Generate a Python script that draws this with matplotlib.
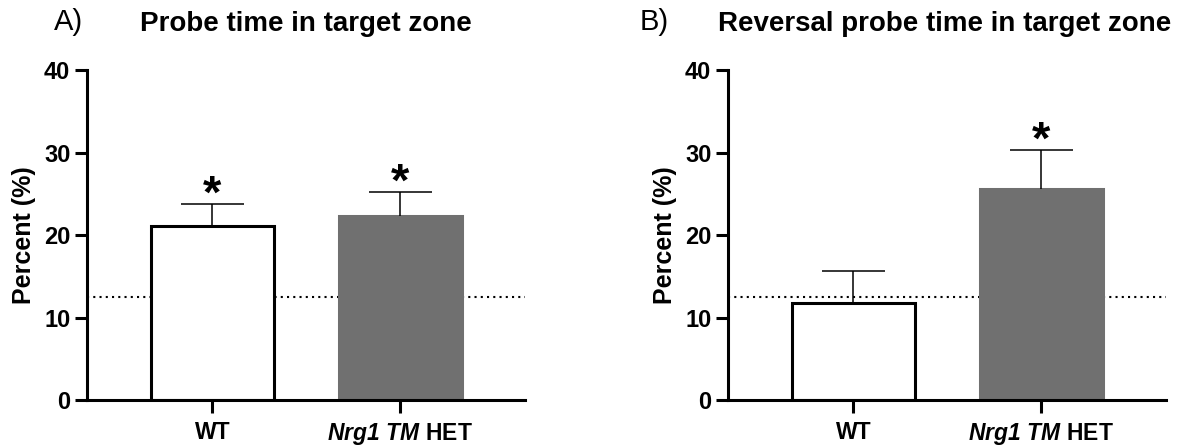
import numpy as np
import matplotlib
matplotlib.use("Agg")
import matplotlib.pyplot as plt

plt.rcParams['font.family'] = ['Liberation Sans', 'DejaVu Sans']
plt.rcParams['mathtext.fontset'] = 'custom'
plt.rcParams['mathtext.rm'] = 'Liberation Sans:italic:bold'
plt.rcParams['mathtext.it'] = 'Liberation Sans:italic:bold'

groups = ["WT", r"$\mathrm{Nrg1\ TM}$ HET"]
chance = 12.5

# probe trial
probe_mean = [21.1, 22.35]
probe_sem = [2.7, 2.9]
probe_sig = [True, True]

# reversal probe trial
rev_mean = [11.7, 25.6]
rev_sem = [3.9, 4.7]
rev_sig = [False, True]

fills = ["white", "#707070"]
edges = ["black", "#707070"]


def bar_panel(ax, means, sems, sig):
    x = np.arange(len(means))
    means = np.array(means)
    tops = means + np.array(sems)
    ax.axhline(chance, color="black", lw=1.5, ls=(0, (1, 2)), zorder=1)
    ax.bar(x, means, width=0.655, color=fills, edgecolor=edges,
           linewidth=2.2, zorder=2)
    # upper half of SEM only
    ax.vlines(x, means, tops, color="black", lw=1.1, zorder=3)
    ax.hlines(tops, x - 0.168, x + 0.168, color="black", lw=1.1, zorder=3)
    for xi, t, star in zip(x, tops, sig):
        if star:
            ax.annotate("*", (xi, t), xytext=(0, -10),
                        textcoords="offset points", ha="center", va="bottom",
                        fontsize=34, fontweight="bold")
    ax.set_xlim(-0.668, 1.665)
    ax.set_ylim(0, 40)
    ax.set_yticks([0, 10, 20, 30, 40])
    ax.set_xticks(x)
    ax.set_xticklabels(groups)
    ax.set_ylabel("Percent (%)", fontsize=18, fontweight="bold", labelpad=6)
    for side in ["top", "right"]:
        ax.spines[side].set_visible(False)
    for side in ["left", "bottom"]:
        ax.spines[side].set_linewidth(2.2)
    ax.tick_params(width=2.2, length=9, labelsize=17, pad=3)
    ax.tick_params(axis="x", labelsize=16.5, pad=6)
    for lab in ax.get_xticklabels() + ax.get_yticklabels():
        lab.set_fontweight("bold")


fig = plt.figure(figsize=(11.84, 4.45), dpi=100)
ax1 = fig.add_axes([0.0735, 0.1011, 0.3699, 0.7416])
ax2 = fig.add_axes([0.6149, 0.1011, 0.3699, 0.7416])

bar_panel(ax1, probe_mean, probe_sem, probe_sig)
bar_panel(ax2, rev_mean, rev_sem, rev_sig)

fig.text(68 / 1184, 1 - 22 / 445, "A)", fontsize=21, ha="center", va="center")
fig.text(306 / 1184, 1 - 24 / 445, "Probe time in target zone",
         fontsize=20, fontweight="bold", ha="center", va="center")
fig.text(654 / 1184, 1 - 22 / 445, "B)", fontsize=21, ha="center", va="center")
fig.text(945 / 1184, 1 - 24 / 445, "Reversal probe time in target zone",
         fontsize=20, fontweight="bold", ha="center", va="center")

fig.savefig("out.png", dpi=100)
